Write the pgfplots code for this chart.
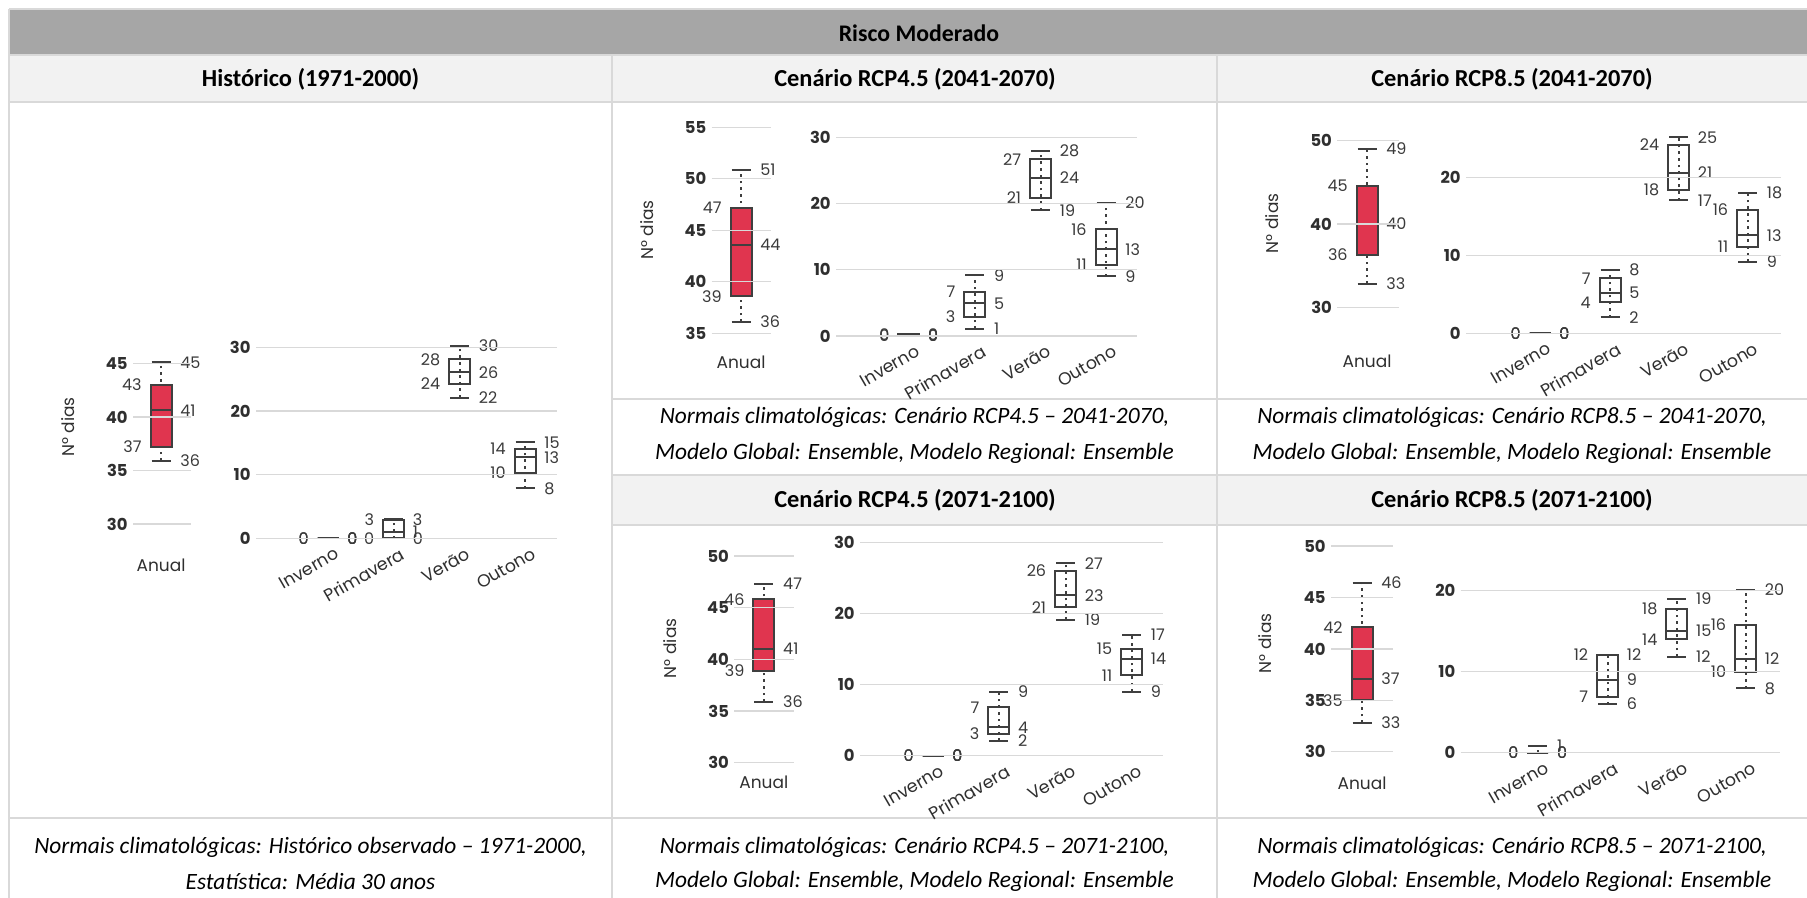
\documentclass[border=0pt]{standalone}
\usepackage{pgfplots}
\pgfplotsset{compat=1.18}
\usepackage{fontspec}
\setmainfont{Carlito}
\newfontfamily\pop{Poppins}
\definecolor{titlegray}{HTML}{A6A6A6}
\definecolor{headgray}{HTML}{F2F2F2}
\definecolor{linegray}{HTML}{D9D9D9}
\definecolor{gridgray}{HTML}{D9D9D9}
\definecolor{boxdark}{HTML}{3F3F3F}
\definecolor{redc}{HTML}{E0354F}
\definecolor{tickc}{HTML}{2F2F2F}
\definecolor{lblc}{HTML}{3A3A3A}

\tikzset{
  lR/.style={anchor=west, inner sep=0pt, xshift=9.5pt, font=\pop\fontsize{8}{9}\selectfont, text=lblc},
  lL/.style={anchor=east, inner sep=0pt, xshift=-9.5pt, font=\pop\fontsize{8}{9}\selectfont, text=lblc},
  bxs/.style={draw=boxdark, line width=1pt},
  wh/.style={draw=boxdark, line width=1pt, dash pattern=on 1.3pt off 2pt},
}
\pgfplotsset{
  base/.style={anchor=south west, clip=false, enlargelimits=false, axis on top,
    axis line style={draw=none}, tick style={draw=none}, major tick length=0pt,
    ymajorgrids, major grid style={draw=gridgray, line width=0.65pt},
    /pgf/number format/assume math mode=true,
    yticklabel style={font=\pop\bfseries\fontsize{8.2}{9}\selectfont, text=tickc, inner sep=0pt, xshift=-2.5pt},
    x=0.5pt},
  an/.style={base, xtick={#1}, xticklabels={Anual},
    xticklabel style={font=\pop\fontsize{8.5}{9}\selectfont, text=tickc, anchor=center, inner sep=0pt}},
  se/.style={base, xticklabels={Inverno,Primavera,Verão,Outono},
    xticklabel style={font=\pop\fontsize{8.7}{9}\selectfont, text=tickc, inner sep=0pt, xshift=3pt, yshift=-4pt, rotate=30, anchor=north east}},
}
\newcommand{\rn}[1]{\pgfmathprintnumber[fixed,precision=0,assume math mode=true]{#1}}
% #1 centre, #2 min, #3 q1, #4 median, #5 q3, #6 max, #7 fill
\newcommand{\bx}[7]{%
  \pgfmathsetmacro\xa{#1-10.5}\pgfmathsetmacro\xb{#1+10.5}%
  \pgfmathsetmacro\ca{#1-9.5}\pgfmathsetmacro\cb{#1+9.5}%
  \edef\tmp{%
    \noexpand\addplot[wh] coordinates {(#1,#2) (#1,#6)};
    \noexpand\addplot[bxs,fill=#7] coordinates {(\xa,#3) (\xb,#3) (\xb,#5) (\xa,#5)} -- cycle;
    \noexpand\addplot[bxs] coordinates {(\xa,#4) (\xb,#4)};
    \noexpand\addplot[bxs] coordinates {(\ca,#2) (\cb,#2)};
    \noexpand\addplot[bxs] coordinates {(\ca,#6) (\cb,#6)};
  }\tmp
  \node[lR] at (axis cs:#1,#6) {\rn{#6}};
  \node[lR] at (axis cs:#1,#4) {\rn{#4}};
  \node[lR] at (axis cs:#1,#2) {\rn{#2}};
  \node[lL] at (axis cs:#1,#5) {\rn{#5}};
  \node[lL] at (axis cs:#1,#3) {\rn{#3}};
}

\begin{document}
\begin{tikzpicture}
\useasboundingbox (0,0) rectangle (903.5pt,-449pt);
\begin{scope}[x=0.5pt,y=-0.5pt]
  \fill[titlegray] (9,10) rectangle (1807,55);
  \fill[headgray] (9,55) rectangle (1807,102);
  \fill[headgray] (612,475) rectangle (1807,525);
  \begin{scope}[draw=linegray, line width=1pt]
    \draw (9,9.5) -- (1807,9.5);
    \draw (9,55) -- (1807,55);
    \draw (9,102) -- (1807,102);
    \draw (612,399) -- (1807,399);
    \draw (612,475) -- (1807,475);
    \draw (612,525) -- (1807,525);
    \draw (9,818) -- (1807,818);
    \draw (9,9.5) -- (9,898);
    \draw (612,55) -- (612,898);
    \draw (1217,55) -- (1217,898);
  \end{scope}
  \node[font=\bfseries\fontsize{11.9}{13}\selectfont] at (919,33) {Risco Moderado};
  \begin{scope}[every node/.style={font=\bfseries\fontsize{12.2}{13}\selectfont}]
    \node at (310.5,79) {Histórico (1971-2000)};
    \node at (915,79) {Cenário RCP4.5 (2041-2070)};
    \node at (1512,79) {Cenário RCP8.5 (2041-2070)};
    \node at (915,500) {Cenário RCP4.5 (2071-2100)};
    \node at (1512,500) {Cenário RCP8.5 (2071-2100)};
  \end{scope}
  \begin{scope}[every node/.style={font=\itshape\fontsize{11.7}{13}\selectfont}]
    \node at (310.5,847) {Normais climatológicas: Histórico observado – 1971-2000,};
    \node at (310.5,881) {Estatística: Média 30 anos};
    \node at (914.5,417) {Normais climatológicas: Cenário RCP4.5 – 2041-2070,};
    \node at (914.5,453) {Modelo Global: Ensemble, Modelo Regional: Ensemble};
    \node at (1512,417) {Normais climatológicas: Cenário RCP8.5 – 2041-2070,};
    \node at (1512,453) {Modelo Global: Ensemble, Modelo Regional: Ensemble};
    \node at (914.5,847) {Normais climatológicas: Cenário RCP4.5 – 2071-2100,};
    \node at (914.5,881) {Modelo Global: Ensemble, Modelo Regional: Ensemble};
    \node at (1512,847) {Normais climatológicas: Cenário RCP8.5 – 2071-2100,};
    \node at (1512,881) {Modelo Global: Ensemble, Modelo Regional: Ensemble};
  \end{scope}
  \begin{scope}[every node/.style={font=\pop\fontsize{8.5}{9}\selectfont, text=tickc, rotate=90}]
    \node at (68,427) {N° dias};
    \node at (646.7,230) {N° dias};
    \node at (1271.7,223.3) {N° dias};
    \node at (670,648.3) {N° dias};
    \node at (1265,643.3) {N° dias};
  \end{scope}
\end{scope}

% ---------- Panel 1: Historico ----------
\begin{axis}[an=161, at={(66.5pt,-262pt)}, xmin=133, xmax=191, ymin=30, ymax=45, y=5.355pt,
  ytick={30,35,40,45}, xticklabel style={yshift=-20.5pt}]
  \bx{161}{35.9}{37.2}{40.6}{43.0}{45.1}{redc}
\end{axis}
\begin{axis}[se, at={(128pt,-269.15pt)}, xmin=256, xmax=557, ymin=0, ymax=30, y=3.185pt,
  ytick={0,10,20,30}, xtick={328,393.5,459.5,525}]
  \bx{328}{0}{0}{0}{0}{0}{none}
  \bx{393.5}{0}{0}{1.0}{2.9}{3.0}{none}
  \bx{459.5}{22.1}{24.3}{26.06}{28.1}{30.2}{none}
  \bx{525}{7.85}{10.3}{12.7}{14.0}{15.07}{none}
\end{axis}

% ---------- Panel 2: RCP4.5 2041-2070 ----------
\begin{axis}[an=741, at={(355.85pt,-166.65pt)}, xmin=711.7, xmax=771, ymin=35, ymax=55, y=5.15pt,
  ytick={35,40,45,50,55}, xticklabel style={yshift=-14.5pt}]
  \bx{741}{36.1}{38.6}{43.6}{47.2}{50.9}{redc}
\end{axis}
\begin{axis}[se, at={(418pt,-168pt)}, xmin=836, xmax=1137, ymin=0, ymax=30, y=3.31pt,
  ytick={0,10,20,30}, xtick={908.8,974.7,1040.5,1106}]
  \bx{908.8}{0}{0}{0}{0.25}{0.25}{none}
  \bx{974.7}{1.06}{2.9}{4.94}{6.7}{9.14}{none}
  \bx{1040.5}{19.0}{20.9}{23.9}{26.7}{28.0}{none}
  \bx{1106}{9.0}{10.8}{13.1}{16.1}{20.1}{none}
\end{axis}

% ---------- Panel 3: RCP8.5 2041-2070 ----------
\begin{axis}[an=1367, at={(668.65pt,-153.65pt)}, xmin=1337.3, xmax=1399, ymin=30, ymax=50, y=4.165pt,
  ytick={30,40,50}, xticklabel style={yshift=-27.2pt}]
  \bx{1367}{32.8}{36.3}{40}{44.6}{49.0}{redc}
\end{axis}
\begin{axis}[se, at={(733pt,-166.65pt)}, xmin=1466, xmax=1781, ymin=0, ymax=20, y=3.89pt,
  ytick={0,10,20}, xtick={1540,1610,1678.5,1747.5}]
  \bx{1540}{0}{0}{0}{0}{0}{none}
  \bx{1610}{2.06}{3.98}{5.2}{7.07}{8.1}{none}
  \bx{1678.5}{17.1}{18.4}{20.6}{24.2}{25.2}{none}
  \bx{1747.5}{9.2}{11.1}{12.6}{15.85}{18.07}{none}
\end{axis}

% ---------- Panel 4: RCP4.5 2071-2100 ----------
\begin{axis}[an=763.8, at={(367.15pt,-381.35pt)}, xmin=734.3, xmax=794.3, ymin=30, ymax=50, y=5.165pt,
  ytick={30,35,40,45,50}, xticklabel style={yshift=-10pt}]
  \bx{763.8}{35.9}{38.9}{41.0}{45.8}{47.3}{redc}
\end{axis}
\begin{axis}[se, at={(430pt,-377.85pt)}, xmin=860, xmax=1163.4, ymin=0, ymax=30, y=3.55pt,
  ytick={0,10,20,30}, xtick={933,998.8,1065.5,1131.5}]
  \bx{933}{0}{0}{0}{0}{0}{none}
  \bx{998.8}{2.07}{3.06}{4.0}{6.8}{9.0}{none}
  \bx{1065.5}{19.1}{20.9}{22.6}{26.0}{27.1}{none}
  \bx{1131.5}{9.0}{11.3}{13.6}{15.0}{17.0}{none}
\end{axis}

% ---------- Panel 5: RCP8.5 2071-2100 ----------
\begin{axis}[an=1362, at={(665.5pt,-375.85pt)}, xmin=1331, xmax=1393.3, ymin=30, ymax=50, y=5.14pt,
  ytick={30,35,40,45,50}, xticklabel style={yshift=-15.8pt}]
  \bx{1362}{32.8}{35.0}{37.1}{42.1}{46.4}{redc}
\end{axis}
\begin{axis}[se, at={(730.35pt,-376.35pt)}, xmin=1460.7, xmax=1779.5, ymin=0, ymax=20, y=4.05pt,
  ytick={0,10,20}, xtick={1537.7,1607.5,1676.8,1745.5}]
  \bx{1537.7}{0}{0}{0}{0}{0.86}{none}
  \bx{1607.5}{6.0}{6.9}{8.98}{12.06}{12.06}{none}
  \bx{1676.8}{11.85}{14.0}{15.06}{17.8}{18.98}{none}
  \bx{1745.5}{7.95}{10.0}{11.6}{15.8}{20.1}{none}
\end{axis}
\end{tikzpicture}
\end{document}
